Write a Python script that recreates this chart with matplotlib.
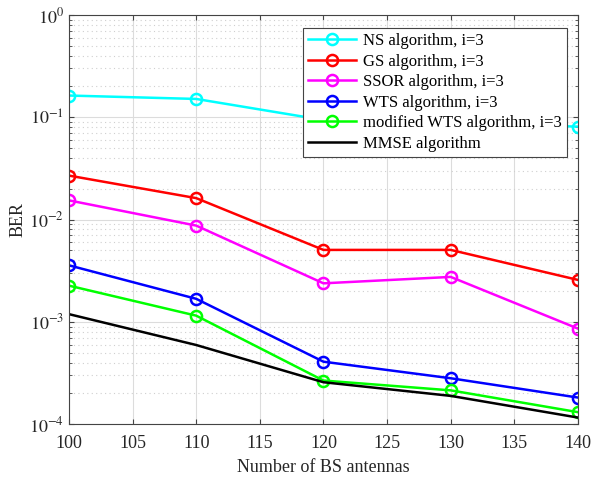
import numpy as np
from matplotlib import pyplot as plt

plt.rcParams['font.family'] = ['Liberation Serif', 'DejaVu Serif']
plt.rcParams['mathtext.fontset'] = 'stix'

antennas = [100, 110, 120, 130, 140]

ber_ns = [0.163, 0.151, 0.094, 0.087, 0.081]
ber_gs = [0.0269, 0.0162, 0.00505, 0.00505, 0.00257]
ber_ssor = [0.0154, 0.00873, 0.00238, 0.00275, 0.000859]
ber_wts = [0.00357, 0.00168, 0.000408, 0.000281, 0.000182]
ber_mwts = [0.00226, 0.00115, 0.000267, 0.000214, 0.000131]
ber_mmse = [0.00119, 0.000594, 0.000257, 0.000189, 0.000116]

labels = ['NS algorithm, i=3', 'GS algorithm, i=3', 'SSOR algorithm, i=3',
          'WTS algorithm, i=3', 'modified WTS algorithm, i=3', 'MMSE algorithm']


def main():
    fig = plt.figure(figsize=(5.94, 4.82), dpi=100)
    ax = fig.add_axes([0.116, 0.120, 0.857, 0.849])

    series = [(ber_ns, 'cyan'), (ber_gs, 'red'), (ber_ssor, 'magenta'),
              (ber_wts, 'blue'), (ber_mwts, '#00ff00')]
    for (vals, col), lab in zip(series, labels):
        ax.semilogy(antennas, vals, '-o', color=col, lw=1.8, markersize=8,
                    markerfacecolor='none', markeredgewidth=1.8, label=lab)
    ax.semilogy(antennas, ber_mmse, '-', color='black', lw=1.8, label=labels[-1])

    ax.set_xlim(100, 140)
    ax.set_ylim(1e-4, 1)
    ax.set_xticks(np.arange(100, 141, 5))
    ax.set_yticks([1e-4, 1e-3, 1e-2, 1e-1, 1e0])
    ax.set_yticklabels([r'$10^{-4}$', r'$10^{-3}$', r'$10^{-2}$', r'$10^{-1}$', r'$10^{0}$'])

    ax.grid(True, which='major', color='#dcdcdc', lw=0.8, ls='-')
    ax.grid(True, which='minor', axis='y', color='#cfcfcf', lw=0.8, ls=(0, (1, 3)))
    ax.set_axisbelow(True)
    ax.tick_params(which='both', direction='in', top=True, right=True, labelsize=13,
                   color='#444444', labelcolor='#262626')
    ax.tick_params(axis='x', pad=8)
    for s in ax.spines.values():
        s.set_color('#444444')
        s.set_linewidth(0.8)

    ax.set_xlabel('Number of BS antennas', fontsize=13, color='#262626', labelpad=5)
    ax.set_ylabel('BER', fontsize=13, labelpad=2, color='#262626')

    leg = ax.legend(loc='upper right', bbox_to_anchor=(0.978, 0.968), fontsize=12,
                    fancybox=False, framealpha=1, edgecolor='#444444',
                    handlelength=2.9, handletextpad=0.4, labelspacing=0.27,
                    borderpad=0.3, borderaxespad=0)
    leg.get_frame().set_linewidth(0.8)

    fig.savefig('out.png', dpi=100)


if __name__ == '__main__':
    main()
